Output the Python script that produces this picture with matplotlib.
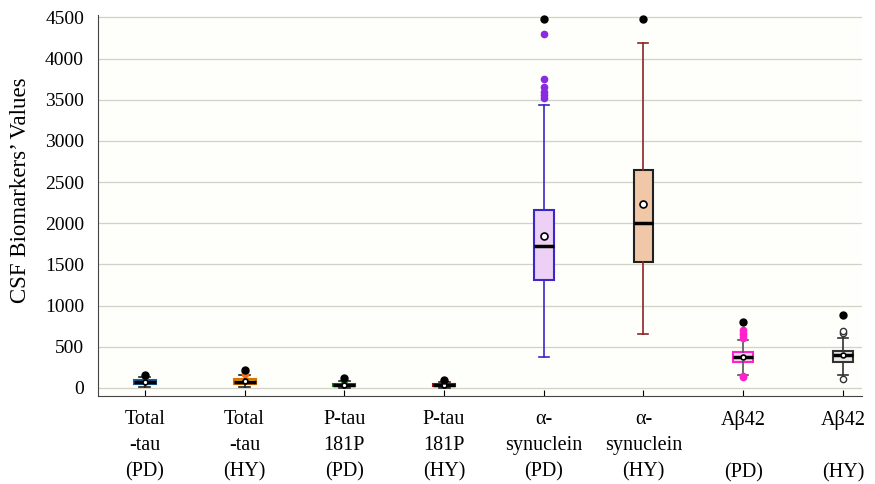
import matplotlib
matplotlib.use("Agg")
import matplotlib.pyplot as plt

plt.rcParams['font.family'] = ['Liberation Serif', 'DejaVu Serif']

labels = ["Total\n-tau\n(PD)", "Total\n-tau\n(HY)", "P-tau\n181P\n(PD)", "P-tau\n181P\n(HY)",
          "α-\nsynuclein\n(PD)", "α-\nsynuclein\n(HY)", "Aβ42\n\n(PD)", "Aβ42\n\n(HY)"]

whislo = [10, 10, 5, 5, 375, 650, 157, 157]
q1 = [45, 45, 20, 18, 1307, 1525, 315, 315]
med = [70, 75, 35, 30, 1730, 2000, 375, 395]
q3 = [95, 110, 50, 45, 2166, 2650, 436, 448]
whishi = [130, 160, 80, 70, 3436, 4190, 581, 605]
means = [72, 80, 38, 33, 1851, 2230, 380, 395]
fliers = [[145], [175, 190, 205], [100], [80],
          [3520, 3560, 3600, 3650, 3750, 4300], [], [130, 150, 610, 640, 670, 700], [110, 665, 690]]
extreme = [[157], [220], [122], [97], [4480], [4480], [800], [885]]

face = ["#2e9ad6", "#f6b818", "#27a02a", "#e02020", "#ecd0f5", "#f0c8a8", "#f8d8f0", "#e8e8e8"]
edge = ["#1a5fa0", "#e07000", "#1a7a1a", "#a01010", "#3a28c8", "#202020", "#ff22cc", "#333333"]
whisk = ["#222222", "#222222", "#222222", "#222222", "#3a28c8", "#8b2525", "#555555", "#333333"]
flier_col = ["#1a5fa0", "#f07020", "#1a7a1a", "#a01010", "#8a2be2", "#b03030", "#ff22cc", "white"]

fig = plt.figure(figsize=(8.75, 4.84), dpi=100)
ax = fig.add_axes([0.112, 0.182, 0.873, 0.787])
ax.set_facecolor("#fefefa")

for i in range(len(labels)):
    stats = [dict(whislo=whislo[i], q1=q1[i], med=med[i], q3=q3[i], whishi=whishi[i],
                  mean=means[i], fliers=fliers[i])]
    w = 0.2 if i >= 4 else 0.22
    ms = 5 if 4 <= i <= 5 else 3.5
    ax.bxp(stats, positions=[i + 1], widths=w, patch_artist=True, showmeans=True,
           boxprops=dict(facecolor=face[i], edgecolor=edge[i], linewidth=1.5),
           whiskerprops=dict(color=whisk[i], linewidth=1.2),
           capprops=dict(color=whisk[i], linewidth=1.2),
           medianprops=dict(color="black", linewidth=2.5),
           meanprops=dict(marker="o", markerfacecolor="white", markeredgecolor="black",
                          markersize=ms, markeredgewidth=1.2),
           flierprops=dict(marker="o", markerfacecolor=flier_col[i],
                           markeredgecolor=flier_col[i] if i != 7 else "#333333",
                           markersize=4.5))
    ax.plot([i + 1] * len(extreme[i]), extreme[i], "o", color="black", markersize=5, zorder=4)

ax.set_xlim(0.53, 8.19)
ax.set_ylim(-97, 4530)
ax.set_yticks(range(0, 5000, 500))
ax.set_xticks(range(1, 9))
ax.set_xticklabels(labels, fontsize=14.5, linespacing=1.5)
ax.tick_params(axis="y", length=0, labelsize=14, pad=10)
ax.tick_params(axis="x", direction="in", length=4, pad=10)
ax.yaxis.grid(True, color="#d2d2c8", linewidth=0.9)
ax.set_axisbelow(True)
ax.set_ylabel("CSF Biomarkers\u2019 Values", fontsize=16.5)
ax.yaxis.set_label_coords(-0.088, 0.54)

for s in ["top", "right"]:
    ax.spines[s].set_visible(False)
ax.spines["left"].set_color("#444444")
ax.spines["bottom"].set_color("#444444")

fig.savefig("out.png", dpi=100)
